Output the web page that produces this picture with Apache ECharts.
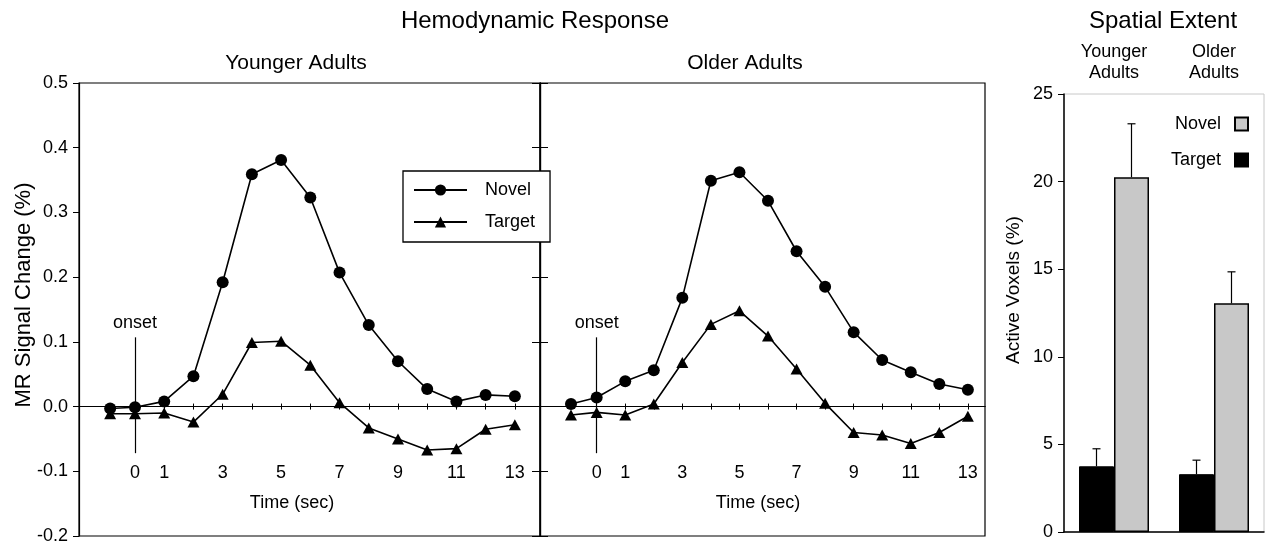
<!DOCTYPE html>
<html>
<head>
<meta charset="utf-8">
<script src="https://cdn.jsdelivr.net/npm/echarts@6/dist/echarts.min.js"></script>
<style>
html, body { margin: 0; background: #fff; }
#main { width: 1272px; height: 546px; }
</style>
</head>
<body>
<div id="main"></div>
<script>
// hemodynamic response + spatial extent panels
var myChart = echarts.init(document.getElementById('main'));

var timeTicks = [0, 1, 2, 3, 4, 5, 6, 7, 8, 9, 10, 11, 12, 13];
var timeLabels = [0, 1, 3, 5, 7, 9, 11, 13];

var youngTime = [-0.85, 0, 1, 2, 3, 4, 5, 6, 7, 8, 9, 10, 11, 12, 13];
var youngNovel = [-0.003, -0.001, 0.008, 0.047, 0.192, 0.359, 0.381, 0.323, 0.207, 0.126, 0.070, 0.027, 0.008, 0.018, 0.016];
var youngTarget = [-0.011, -0.011, -0.010, -0.024, 0.019, 0.099, 0.101, 0.064, 0.006, -0.033, -0.050, -0.067, -0.065, -0.035, -0.028];

var oldTime = [-0.9, 0, 1, 2, 3, 4, 5, 6, 7, 8, 9, 10, 11, 12, 13];
var oldNovel = [0.004, 0.014, 0.039, 0.056, 0.168, 0.349, 0.362, 0.318, 0.240, 0.185, 0.115, 0.072, 0.053, 0.035, 0.026];
var oldTarget = [-0.013, -0.009, -0.013, 0.004, 0.068, 0.127, 0.148, 0.109, 0.058, 0.005, -0.040, -0.044, -0.057, -0.040, -0.015];

var onsetTop = 0.107, onsetBottom = -0.072;

var groups = ['Younger\nAdults', 'Older\nAdults'];
var targetExtent = [3.75, 3.3];
var targetError = [4.75, 4.1];
var novelExtent = [20.25, 13.05];
var novelError = [23.3, 14.85];

var FONT = 'Liberation Sans, Arial, sans-serif';
var BAR_W = 35;

function zip(xs, ys) {
    return xs.map(function (x, i) { return [x, ys[i]]; });
}

var onsetLine = {
    silent: true,
    symbol: ['none', 'none'],
    lineStyle: { color: '#000', width: 1.2, type: 'solid' },
    label: { show: true, position: 'start', formatter: 'onset', distance: 5,
             color: '#000', fontSize: 18, fontFamily: FONT },
    data: [[{ coord: [0, onsetTop] }, { coord: [0, onsetBottom] }]]
};

// zero line with small ticks crossing it (one axis ticks down, one up)
function timeAxis(grid, min, max, zeroY, inside) {
    return {
        type: 'value', gridIndex: grid, min: min, max: max, position: 'bottom',
        splitLine: { show: false },
        axisLine: { onZero: true, onZeroAxisIndex: zeroY, lineStyle: { color: '#000', width: 1.2 } },
        axisTick: { show: true, inside: inside, length: 3, customValues: timeTicks,
                    lineStyle: { color: '#000', width: 1 } },
        axisLabel: { show: false }
    };
}

// tick labels sit down at the -0.1 level, away from the zero line
function timeLabelAxis(grid, min, max) {
    return {
        type: 'value', gridIndex: grid, min: min, max: max, position: 'bottom', offset: -72,
        splitLine: { show: false },
        axisLine: { show: false, onZero: false },
        axisTick: { show: false },
        axisLabel: { show: true, customValues: timeLabels, margin: 0,
                     color: '#000', fontSize: 18, fontFamily: FONT }
    };
}

function signalAxis(grid, pos, labels, tickLen) {
    return {
        type: 'value', gridIndex: grid, position: pos, min: -0.2, max: 0.5, interval: 0.1,
        splitLine: { show: false },
        axisLine: { show: true, onZero: false, lineStyle: { color: '#000', width: 1.2 } },
        axisTick: { show: true, length: tickLen, lineStyle: { color: '#000', width: 1 } },
        axisLabel: { show: labels, margin: 11, color: '#000', fontSize: 18, fontFamily: FONT,
                     formatter: function (v) { return v.toFixed(1); } }
    };
}

function lineSeries(name, xi, yi, data, symbol, size) {
    return {
        name: name, type: 'line', xAxisIndex: xi, yAxisIndex: yi, data: data,
        symbol: symbol, symbolSize: size, showSymbol: true,
        itemStyle: { color: '#000' },
        lineStyle: { color: '#000', width: 1.6 },
        z: 3
    };
}

function txt(text, x, y, size, rot) {
    return {
        type: 'text', x: x, y: y, rotation: rot || 0, silent: true,
        style: { text: text, fill: '#000', font: size + 'px ' + FONT,
                 textAlign: 'center', textVerticalAlign: 'middle' }
    };
}

var errData = [];
for (var i = 0; i < groups.length; i++) {
    errData.push([i, targetExtent[i], targetError[i], -1]);
    errData.push([i, novelExtent[i], novelError[i], 1]);
}

var yn = lineSeries('Novel', 0, 0, zip(youngTime, youngNovel), 'circle', 12);
yn.markLine = onsetLine;
var on = lineSeries('Novel', 3, 2, zip(oldTime, oldNovel), 'circle', 12);
on.markLine = onsetLine;

option = {
    backgroundColor: '#fff',
    animation: false,
    textStyle: { fontFamily: FONT },
    grid: [
        { left: 79, top: 83, width: 461, height: 453, show: true, borderColor: '#000', borderWidth: 1.2,
          outerBoundsMode: 'none' },
        { left: 540, top: 83, width: 445, height: 453, show: true, borderColor: '#000', borderWidth: 1.2,
          outerBoundsMode: 'none' },
        { left: 1064, top: 94, width: 200, height: 438, show: true, borderColor: '#c8c8c8', borderWidth: 1,
          outerBoundsMode: 'none' }
    ],
    xAxis: [
        timeAxis(0, -1.916, 13.86, 0, false),
        timeAxis(0, -1.916, 13.86, 0, true),
        timeLabelAxis(0, -1.916, 13.86),
        timeAxis(1, -1.985, 13.6, 2, false),
        timeAxis(1, -1.985, 13.6, 2, true),
        timeLabelAxis(1, -1.985, 13.6),
        {
            type: 'category', gridIndex: 2, position: 'top', data: groups,
            axisLine: { show: false }, axisTick: { show: false },
            axisLabel: { margin: 10, color: '#000', fontSize: 18, lineHeight: 21, fontFamily: FONT }
        },
        {
            type: 'category', gridIndex: 2, position: 'bottom', data: groups,
            axisLine: { show: true, lineStyle: { color: '#000', width: 1.5 } },
            axisTick: { show: false }, axisLabel: { show: false }
        }
    ],
    yAxis: [
        signalAxis(0, 'left', true, 6),
        signalAxis(0, 'right', false, 8),
        signalAxis(1, 'left', false, 8),
        {
            type: 'value', gridIndex: 2, min: 0, max: 25, interval: 5,
            splitLine: { show: false },
            axisLine: { show: true, onZero: false, lineStyle: { color: '#000', width: 1.5 } },
            axisTick: { show: true, length: 6, lineStyle: { color: '#000', width: 1 } },
            axisLabel: { margin: 11, color: '#000', fontSize: 18, fontFamily: FONT }
        }
    ],
    legend: [
        {
            data: ['Novel', 'Target'], orient: 'vertical', left: 403, top: 171,
            itemWidth: 53, itemHeight: 14, itemGap: 14, padding: [10, 15, 11, 10],
            borderColor: '#000', borderWidth: 1.3, backgroundColor: '#fff',
            selectedMode: false,
            textStyle: { color: '#000', fontSize: 18, fontFamily: FONT, padding: [0, 0, 0, 13] }
        },
        {
            data: [
                { name: 'Novel extent', icon: 'rect' },
                { name: 'Target extent', icon: 'rect' }
            ],
            orient: 'vertical', right: 23, top: 115, align: 'right', padding: 0,
            itemWidth: 13, itemHeight: 13, itemGap: 18, selectedMode: false,
            formatter: function (n) { return n.replace(' extent', ''); },
            textStyle: { color: '#000', fontSize: 18, fontFamily: FONT, padding: [0, 9, 0, 0] }
        }
    ],
    graphic: [
        txt('Hemodynamic Response', 535, 21, 24),
        txt('Younger Adults', 296, 63, 21),
        txt('Older Adults', 745, 63, 21),
        txt('Spatial Extent', 1163, 21, 24),
        txt('MR Signal Change (%)', 24, 295, 22, Math.PI / 2),
        txt('Time (sec)', 292, 503, 18),
        txt('Time (sec)', 758, 503, 18),
        txt('Active Voxels (%)', 1014, 290, 19, Math.PI / 2)
    ],
    series: [
        yn,
        lineSeries('Target', 0, 0, zip(youngTime, youngTarget), 'triangle', [12, 11]),
        on,
        lineSeries('Target', 3, 2, zip(oldTime, oldTarget), 'triangle', [12, 11]),
        {
            name: 'Target extent', type: 'bar', xAxisIndex: 6, yAxisIndex: 3,
            data: targetExtent, barWidth: BAR_W, barGap: '0%',
            itemStyle: { color: '#000', borderColor: '#000', borderWidth: 1 }
        },
        {
            name: 'Novel extent', type: 'bar', xAxisIndex: 6, yAxisIndex: 3,
            data: novelExtent, barWidth: BAR_W, barGap: '0%',
            itemStyle: { color: '#c8c8c8', borderColor: '#000', borderWidth: 1.5 }
        },
        {
            type: 'custom', xAxisIndex: 6, yAxisIndex: 3, data: errData, z: 5, silent: true,
            encode: { x: 0, y: [1, 2] },
            renderItem: function (params, api) {
                var base = api.coord([api.value(0), api.value(1)]);
                var top = api.coord([api.value(0), api.value(2)]);
                var x = base[0] + api.value(3) * BAR_W / 2;
                var st = { stroke: '#000', lineWidth: 1.2 };
                return {
                    type: 'group',
                    children: [
                        { type: 'line', shape: { x1: x, y1: base[1], x2: x, y2: top[1] }, style: st },
                        { type: 'line', shape: { x1: x - 4, y1: top[1], x2: x + 4, y2: top[1] }, style: st }
                    ]
                };
            }
        }
    ]
};
myChart.setOption(option);
</script>
</body>
</html>
